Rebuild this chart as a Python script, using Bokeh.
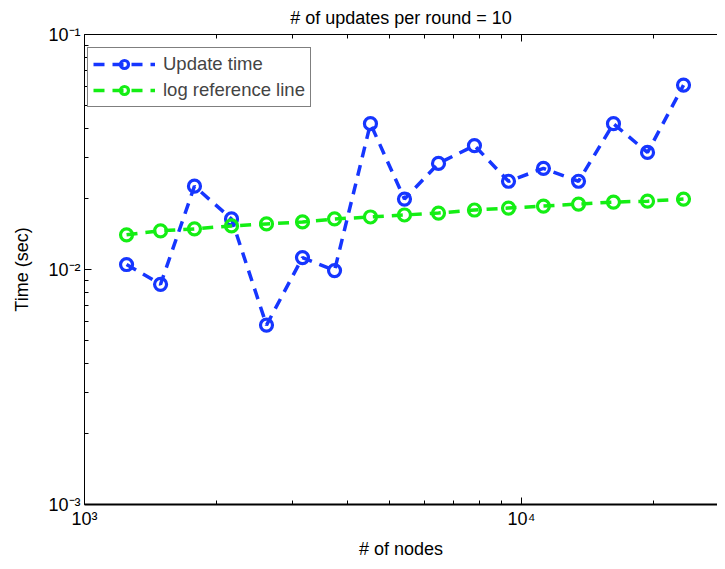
from bokeh.plotting import figure
from bokeh.models import FixedTicker, LogAxis, Legend, LegendItem, Range1d
from bokeh.embed import file_html
from bokeh.resources import INLINE

# ---- data ----
nodes = [1248, 1493, 1785, 2170, 2609, 3154, 3734, 4512, 5398, 6458,
         7805, 9339, 11226, 13505, 16237, 19427, 23485]
update_time = [0.01050, 0.00865, 0.02262, 0.01641, 0.00580, 0.01124, 0.00990,
               0.04172, 0.01994, 0.02828, 0.03369, 0.02374, 0.02694, 0.02374,
               0.04172, 0.03148, 0.06091]
log_ref = [0.01405, 0.01461, 0.01489, 0.01533, 0.01563, 0.01594, 0.01641,
           0.01673, 0.01706, 0.01739, 0.01791, 0.01826, 0.01862, 0.01899,
           0.01936, 0.01954, 0.01993]

x_major = [1000, 10000]
x_minor = [2000, 3000, 4000, 5000, 6000, 7000, 8000, 9000, 20000]
x_labels = {1000: "10³", 10000: "10⁴"}
y_major = [0.001, 0.01, 0.1]
y_minor = [0.002, 0.003, 0.004, 0.005, 0.006, 0.007, 0.008, 0.009,
           0.02, 0.03, 0.04, 0.05, 0.06, 0.07, 0.08, 0.09]
y_labels = {0.001: "10⁻³", 0.01: "10⁻²", 0.1: "10⁻¹"}

title_text = "# of updates per round = 10"
x_title = "# of nodes"
y_title = "Time (sec)"
series_names = ["Update time", "log reference line"]

BLUE = "#1636ff"
GREEN = "#14ee14"
FONT = "Liberation Sans"

p = figure(width=717, height=561, x_axis_type="log", y_axis_type="log",
           x_range=Range1d(1000, 28090), y_range=Range1d(0.001, 0.1),
           output_backend="svg", toolbar_location=None,
           min_border_left=84, min_border_right=0, min_border_top=34,
           min_border_bottom=53, title=title_text)
p.title.align = "center"
p.title.text_font = FONT
p.title.text_font_size = "18px"
p.title.text_font_style = "normal"
p.title.text_color = "black"
p.title.standoff = 10
p.title.vertical_align = "top"

p.grid.visible = False
p.outline_line_color = None
p.background_fill_color = "white"
p.border_fill_color = "white"

xt = FixedTicker(ticks=x_major, minor_ticks=x_minor)
yt = FixedTicker(ticks=y_major, minor_ticks=y_minor)

for ax in p.xaxis:
    ax.ticker = xt
    ax.major_label_overrides = x_labels
    ax.axis_label = x_title
for ax in p.yaxis:
    ax.ticker = yt
    ax.major_label_overrides = y_labels
    ax.axis_label = y_title

def style(ax):
    ax.axis_line_color = "black"
    ax.major_tick_in = 7
    ax.major_tick_out = 0
    ax.minor_tick_in = 4
    ax.minor_tick_out = 0
    ax.major_tick_line_color = "black"
    ax.minor_tick_line_color = "black"
    ax.major_label_text_font = FONT
    ax.major_label_text_font_size = "18px"
    ax.major_label_text_color = "black"
    ax.axis_label_text_font = FONT
    ax.axis_label_text_font_size = "18px"
    ax.axis_label_text_font_style = "normal"
    ax.axis_label_text_color = "black"

for ax in p.xaxis:
    style(ax)
    ax.axis_line_width = 2
    ax.major_label_standoff = 4
    ax.axis_label_standoff = 7
for ax in p.yaxis:
    style(ax)
    ax.major_label_standoff = 4
    ax.axis_label_standoff = 13

top = LogAxis(ticker=xt)
style(top)
top.major_label_text_font_size = "1px"
top.major_label_text_color = None
top.major_label_standoff = 0
p.add_layout(top, "above")

l1 = p.line(nodes, update_time, line_color=BLUE, line_width=3.5, line_dash="11 8")
s1 = p.scatter(nodes, update_time, marker="circle", size=12, fill_color=None,
               line_color=BLUE, line_width=3.2)
l2 = p.line(nodes, log_ref, line_color=GREEN, line_width=3.5, line_dash="11 8")
s2 = p.scatter(nodes, log_ref, marker="circle", size=12, fill_color=None,
               line_color=GREEN, line_width=3.2)

legend = Legend(items=[LegendItem(label=series_names[0], renderers=[l1, s1]),
                       LegendItem(label=series_names[1], renderers=[l2, s2])],
                location=(3, 397))
legend.label_text_font = FONT
legend.label_text_font_size = "18.5px"
legend.glyph_width = 62
legend.glyph_height = 20
legend.label_height = 20
legend.spacing = 4
legend.padding = 5
legend.label_standoff = 8
legend.border_line_color = "black"
legend.border_line_width = 1
legend.background_fill_alpha = 1
legend.margin = 0
p.add_layout(legend, "center")

open("out.html", "w").write(file_html(p, INLINE))
